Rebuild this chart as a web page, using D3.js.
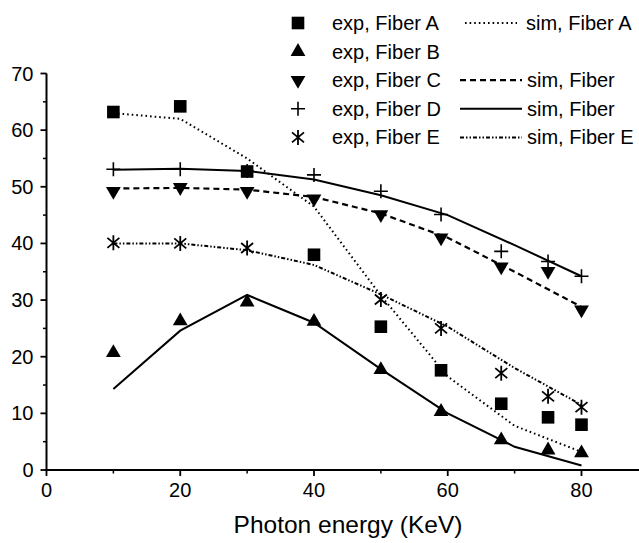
<!DOCTYPE html>
<html><head><meta charset="utf-8">
<script src="https://cdn.jsdelivr.net/npm/d3@7"></script>
<style>
html,body{margin:0;padding:0;background:#fff;}
svg{display:block;font-family:"Liberation Sans",Arial,Helvetica,sans-serif;}
</style></head>
<body>
<svg id="chart" width="639" height="543"></svg>
<script>
// ---- data ----
const expX = [10, 20, 30, 40, 50, 59, 68, 75, 80];
const expA = [63.2, 64.2, 52.7, 38.0, 25.3, 17.6, 11.7, 9.3, 8.0];
const expB = [20.7, 26.3, 29.6, 26.2, 17.7, 10.3, 5.3, 3.5, 3.0];
const expC = [49.2, 49.9, 49.2, 47.9, 45.1, 41.0, 35.9, 35.1, 28.3];
const expD = [53.1, 53.1, 52.8, 52.1, 49.2, 45.1, 38.6, 36.8, 34.2];
const expE = [40.1, 40.0, 39.2, null, 30.1, 25.0, 17.1, 13.0, 11.1];

const simX = [10, 20, 30, 40, 50, 60, 70, 80];
const simA = [63.0, 62.0, 55.0, 46.5, 30.8, 16.5, 7.8, 3.2];
const simB = [14.3, 24.6, 30.9, 26.0, 17.8, 10.0, 4.1, 0.8];
const simC = [49.7, 49.8, 49.5, 48.2, 45.3, 41.0, 35.0, 28.8];
const simD = [53.0, 53.2, 52.8, 51.3, 48.5, 45.0, 39.7, 34.2];
const simE = [40.0, 40.0, 38.8, 36.2, 31.0, 25.3, 18.0, 11.5];

const xTicks = [0, 20, 40, 60, 80];
const yTicks = [0, 10, 20, 30, 40, 50, 60, 70];
const expLabels = ["exp, Fiber A", "exp, Fiber B", "exp, Fiber C", "exp, Fiber D", "exp, Fiber E"];
const simLabels = ["sim, Fiber A", null, "sim, Fiber", "sim, Fiber", "sim, Fiber E"];
const xTitle = "Photon energy (KeV)";

// ---- layout ----
const svg = d3.select("#chart");
const x = d3.scaleLinear().domain([0, 88.6]).range([46.5, 639]);
const y = d3.scaleLinear().domain([0, 70]).range([470, 73.5]);

const styles = {
  A: {dash: "1.6,3", width: 2, cap: "butt"},
  B: {dash: null, width: 2, cap: "butt"},
  C: {dash: "6,4", width: 2.2, cap: "butt"},
  D: {dash: null, width: 2, cap: "butt"},
  E: {dash: "4,2,1.5,2,1.5,2", width: 2, cap: "butt"}
};

// axes
const yAxis = svg.append("g").attr("transform", `translate(${x(0)},0)`);
yAxis.append("line").attr("x1",0).attr("x2",0).attr("y1",y(0)).attr("y2",y(70))
  .attr("stroke","#000").attr("stroke-width",2);
yAxis.selectAll(".maj").data(yTicks).join("line")
  .attr("x1",-6).attr("x2",0).attr("y1",d=>y(d)).attr("y2",d=>y(d))
  .attr("stroke","#000").attr("stroke-width",1.8);
yAxis.selectAll(".min").data(d3.range(5,70,10)).join("line")
  .attr("x1",-3.5).attr("x2",0).attr("y1",d=>y(d)).attr("y2",d=>y(d))
  .attr("stroke","#000").attr("stroke-width",1.5);
yAxis.selectAll("text").data(yTicks).join("text")
  .attr("x",-13).attr("y",d=>y(d)).attr("dy","0.35em")
  .attr("text-anchor","end").attr("font-size",20).text(d=>d);

const xAxis = svg.append("g").attr("transform", `translate(0,${y(0)})`);
xAxis.append("line").attr("x1",x(0)-1).attr("x2",639).attr("y1",0).attr("y2",0)
  .attr("stroke","#000").attr("stroke-width",2.2);
xAxis.selectAll(".maj").data(xTicks).join("line")
  .attr("x1",d=>x(d)).attr("x2",d=>x(d)).attr("y1",0).attr("y2",6)
  .attr("stroke","#000").attr("stroke-width",1.8);
xAxis.selectAll(".min").data([10,30,50,70]).join("line")
  .attr("x1",d=>x(d)).attr("x2",d=>x(d)).attr("y1",0).attr("y2",3.5)
  .attr("stroke","#000").attr("stroke-width",1.5);
xAxis.selectAll("text").data(xTicks).join("text")
  .attr("x",d=>x(d)).attr("y",27)
  .attr("text-anchor","middle").attr("font-size",20).text(d=>d);

svg.append("text").attr("x",348).attr("y",533).attr("text-anchor","middle")
  .attr("font-size",24.5).text(xTitle);

// sim lines
const line = d3.line().x(d=>x(d[0])).y(d=>y(d[1]));
const sims = [["A",simA],["B",simB],["C",simC],["D",simD],["E",simE]];
sims.forEach(([k,vals])=>{
  const st = styles[k];
  svg.append("path").datum(simX.map((v,i)=>[v,vals[i]]))
    .attr("d",line).attr("fill","none").attr("stroke","#000")
    .attr("stroke-width",st.width).attr("stroke-dasharray",st.dash)
    .attr("stroke-linecap",st.cap);
});

// markers
function drawMarker(g, type){
  if(type==="A"){
    g.append("rect").attr("x",-6.3).attr("y",-6.3).attr("width",12.6).attr("height",12.6).attr("fill","#000");
  } else if(type==="B"){
    g.append("path").attr("d",d3.symbol(d3.symbolTriangle,95)()).attr("fill","#000");
  } else if(type==="C"){
    g.append("path").attr("d",d3.symbol(d3.symbolTriangle,95)()).attr("transform","rotate(180)").attr("fill","#000");
  } else if(type==="D"){
    g.append("path").attr("d","M-7,0H7M0,-7V7").attr("stroke","#000").attr("stroke-width",1.6).attr("fill","none");
  } else if(type==="E"){
    g.append("path").attr("d","M0,-7.5V7.5M-6,-5L6,5M-6,5L6,-5").attr("stroke","#000").attr("stroke-width",1.8).attr("fill","none");
  }
}
const exps = [["A",expA],["B",expB],["C",expC],["D",expD],["E",expE]];
exps.forEach(([k,vals])=>{
  expX.forEach((v,i)=>{
    if(vals[i]==null) return;
    const g = svg.append("g").attr("transform",`translate(${x(v)},${y(vals[i])})`);
    drawMarker(g,k);
  });
});

// legend
const keys = ["A","B","C","D","E"];
keys.forEach((k,i)=>{
  const cy = 23 + 28.6*i;
  const g = svg.append("g").attr("transform",`translate(298,${cy})`);
  drawMarker(g,k);
  svg.append("text").attr("x",332).attr("y",cy).attr("dy","0.35em")
    .attr("font-size",20).text(expLabels[i]);
  if(simLabels[i]){
    const st = styles[k];
    svg.append("line").attr("x1",k==="A"?465:460).attr("x2",k==="A"?517:522).attr("y1",cy).attr("y2",cy)
      .attr("stroke","#000").attr("stroke-width",st.width).attr("stroke-dasharray",st.dash);
    svg.append("text").attr("x",k==="A"?526:527).attr("y",cy).attr("dy","0.35em")
      .attr("font-size",20).text(simLabels[i]);
  }
});
</script>
</body></html>
